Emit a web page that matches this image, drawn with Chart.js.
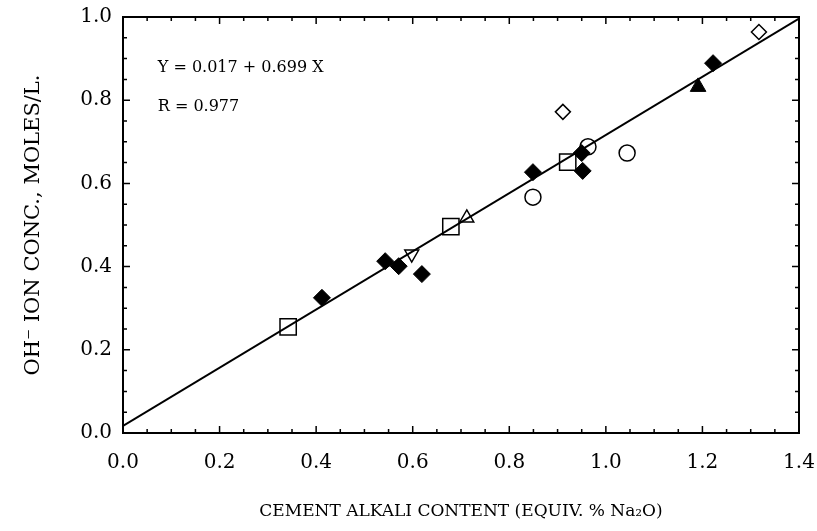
<!DOCTYPE html>
<html>
<head>
<meta charset="utf-8">
<script src="https://cdn.jsdelivr.net/npm/chart.js@4/dist/chart.umd.min.js"></script>
<style>
  html, body { margin: 0; padding: 0; background: #fff; }
  #wrap { width: 817px; height: 531px; }
</style>
</head>
<body>
<div id="wrap"><canvas id="chart"></canvas></div>
<script>
// tick labels
const xTicks = [0.0, 0.2, 0.4, 0.6, 0.8, 1.0, 1.2, 1.4];
const yTicks = [0.0, 0.2, 0.4, 0.6, 0.8, 1.0];

// measured points, grouped by marker
const filledDiamondX = [0.412, 0.543, 0.571, 0.619, 0.849, 0.950, 0.952, 1.222];
const filledDiamondY = [0.325, 0.413, 0.401, 0.382, 0.627, 0.673, 0.630, 0.889];
const openSquareX = [0.342, 0.679, 0.921];
const openSquareY = [0.255, 0.496, 0.651];
const openCircleX = [0.849, 0.963, 1.044];
const openCircleY = [0.567, 0.688, 0.673];
const openDiamondX = [0.911, 1.317];
const openDiamondY = [0.772, 0.964];
const openTriUpX = [0.712];
const openTriUpY = [0.517];
const openTriDownX = [0.598];
const openTriDownY = [0.430];
const filledTriX = [1.191];
const filledTriY = [0.832];

// regression line Y = 0.017 + 0.699 X, end points
const fitX = [0.0, 1.4];
const fitY = [0.017, 0.996];

const fitText = ["Y = 0.017 + 0.699 X", "R = 0.977"];

function pts(xs, ys) {
    return xs.map((x, i) => ({ x: x, y: ys[i] }));
}

const serif = "'DejaVu Serif', 'Liberation Serif', serif";

// frame with inward ticks on all four sides + equation text
const framePlugin = {
    id: 'frame',
    afterDatasetsDraw(chart) {
        const ctx = chart.ctx;
        const a = chart.chartArea;
        const xs = chart.scales.x, ys = chart.scales.y;
        ctx.save();
        ctx.strokeStyle = '#000';
        ctx.lineWidth = 2;
        ctx.strokeRect(a.left, a.top, a.right - a.left, a.bottom - a.top);

        ctx.lineWidth = 1.5;
        ctx.beginPath();
        for (let i = 0; i <= 28; i++) {
            const v = i * 0.05;
            const major = i % 4 === 0;
            const len = major ? 7 : 4;
            const px = xs.getPixelForValue(v);
            ctx.moveTo(px, a.bottom); ctx.lineTo(px, a.bottom - len);
            ctx.moveTo(px, a.top); ctx.lineTo(px, a.top + len);
        }
        for (let i = 0; i <= 20; i++) {
            const v = i * 0.05;
            const major = i % 4 === 0;
            const len = major ? 7 : 4;
            const py = ys.getPixelForValue(v);
            ctx.moveTo(a.left, py); ctx.lineTo(a.left + len, py);
            ctx.moveTo(a.right, py); ctx.lineTo(a.right - len, py);
        }
        ctx.stroke();

        ctx.fillStyle = '#000';
        ctx.font = '16px ' + serif;
        ctx.textBaseline = 'middle';
        ctx.textAlign = 'left';
        ctx.fillText(fitText[0], xs.getPixelForValue(0.072), ys.getPixelForValue(0.877));
        ctx.fillText(fitText[1], xs.getPixelForValue(0.072), ys.getPixelForValue(0.784));
        ctx.restore();
    }
};

const open = 'rgba(0,0,0,0)';

new Chart(document.getElementById('chart'), {
    type: 'scatter',
    data: {
        datasets: [
            {
                type: 'line',
                data: pts(fitX, fitY),
                borderColor: '#000',
                borderWidth: 2,
                pointRadius: 0,
                fill: false
            },
            {
                data: pts(filledDiamondX, filledDiamondY),
                pointStyle: 'rectRot', pointRadius: 8.5,
                backgroundColor: '#000', borderColor: '#000', borderWidth: 1
            },
            {
                data: pts(openSquareX, openSquareY),
                pointStyle: 'rect', pointRadius: 11.5,
                backgroundColor: open, borderColor: '#000', borderWidth: 1.5
            },
            {
                data: pts(openCircleX, openCircleY),
                pointStyle: 'circle', pointRadius: 8,
                backgroundColor: open, borderColor: '#000', borderWidth: 1.5
            },
            {
                data: pts(openDiamondX, openDiamondY),
                pointStyle: 'rectRot', pointRadius: 7.5,
                backgroundColor: open, borderColor: '#000', borderWidth: 1.5
            },
            {
                data: pts(openTriUpX, openTriUpY),
                pointStyle: 'triangle', pointRadius: 8,
                backgroundColor: open, borderColor: '#000', borderWidth: 1.5
            },
            {
                data: pts(openTriDownX, openTriDownY),
                pointStyle: 'triangle', pointRadius: 8, rotation: 180,
                backgroundColor: open, borderColor: '#000', borderWidth: 1.5
            },
            {
                data: pts(filledTriX, filledTriY),
                pointStyle: 'triangle', pointRadius: 9,
                backgroundColor: '#000', borderColor: '#000', borderWidth: 1
            }
        ]
    },
    options: {
        responsive: true,
        maintainAspectRatio: false,
        animation: false,
        layout: { padding: { left: 0, right: 18, top: 17, bottom: 0 } },
        plugins: {
            legend: { display: false },
            tooltip: { enabled: false }
        },
        scales: {
            x: {
                type: 'linear',
                min: 0, max: 1.4,
                afterBuildTicks: s => { s.ticks = xTicks.map(v => ({ value: v })); },
                afterFit: s => { s.height = 98; s.paddingLeft = 0; s.paddingRight = 0; },
                grid: { display: false, drawTicks: false },
                border: { display: false },
                ticks: {
                    color: '#000',
                    padding: 18,
                    maxRotation: 0,
                    font: { family: serif, size: 20 },
                    callback: v => v.toFixed(1)
                },
                title: {
                    display: true,
                    text: 'CEMENT ALKALI CONTENT (EQUIV. % Na₂O)',
                    color: '#000',
                    font: { family: serif, size: 17 },
                    padding: { top: 0, bottom: 9 }
                }
            },
            y: {
                type: 'linear',
                min: 0, max: 1.0,
                afterBuildTicks: s => { s.ticks = yTicks.map(v => ({ value: v })); },
                afterFit: s => { s.width = 123; s.paddingTop = 0; s.paddingBottom = 0; },
                grid: { display: false, drawTicks: false },
                border: { display: false },
                ticks: {
                    color: '#000',
                    padding: 11,
                    font: { family: serif, size: 20 },
                    callback: v => v.toFixed(1)
                },
                title: {
                    display: true,
                    text: 'OH⁻ ION CONC., MOLES/L.',
                    color: '#000',
                    font: { family: serif, size: 21 },
                    padding: { top: 21, bottom: 0 }
                }
            }
        }
    },
    plugins: [framePlugin]
});
</script>
</body>
</html>
